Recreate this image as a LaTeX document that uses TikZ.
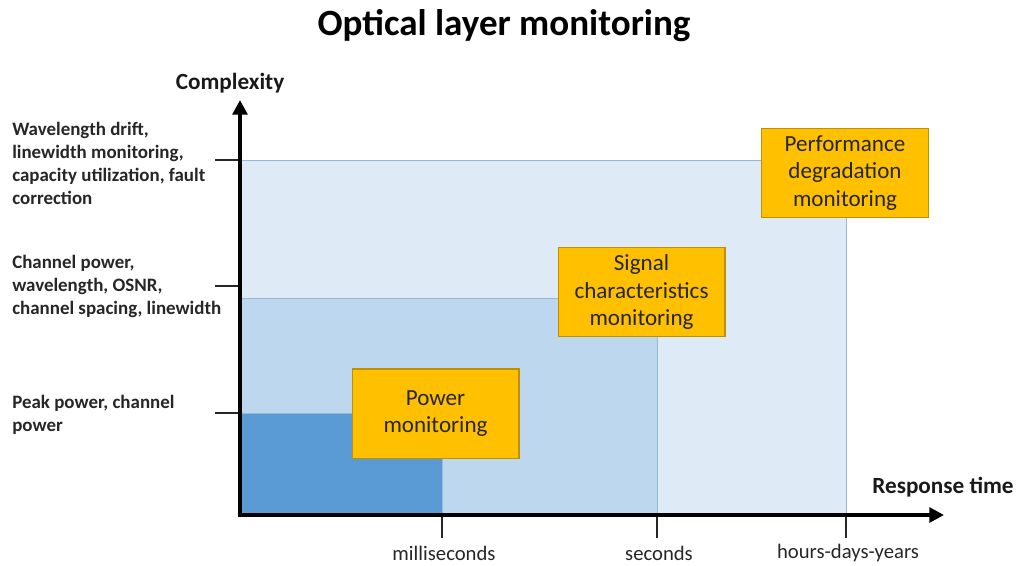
\documentclass[tikz,border=0pt]{standalone}
\usepackage{fontspec}
\setmainfont{Carlito}
\usetikzlibrary{arrows.meta}

\definecolor{lightband}{RGB}{222,235,247}
\definecolor{midband}{RGB}{189,215,238}
\definecolor{darkband}{RGB}{91,155,213}
\definecolor{bandline}{RGB}{150,185,215}
\definecolor{boxfill}{RGB}{255,192,0}
\definecolor{boxline}{RGB}{191,144,0}

\tikzset{
  monbox/.style={draw=boxline, line width=1pt, fill=boxfill, align=center,
    minimum width=125pt, minimum height=67pt, inner sep=0pt,
    font=\fontsize{17.3}{20.5}\selectfont, text=black!85},
  levellabel/.style={anchor=north west, align=left, inner sep=0pt,
    font=\bfseries\fontsize{14.2}{17.25}\selectfont, text=black!85},
  timelabel/.style={font=\fontsize{15.5}{18}\selectfont, text=black!85},
  axislabel/.style={font=\bfseries\fontsize{17.4}{20}\selectfont, text=black!90},
  tick/.style={line width=1.5pt, black!85},
}

\begin{document}
\begin{tikzpicture}[x=0.75pt, y=-0.75pt] % one unit = one pixel of the original
	\useasboundingbox (0,0) rectangle (1019,565);

	% Title
	\node[font=\bfseries\fontsize{27.8}{32}\selectfont] (title) at (504,26) {Optical layer monitoring};

	% Nested bands, from the widest to the smallest
	\draw[fill=lightband, draw=bandline, line width=0.75pt] (240,160) rectangle (846,515);
	\draw[fill=midband, draw=bandline, line width=0.75pt] (240,298) rectangle (657,515);
	\draw[fill=darkband, draw=bandline, line width=0.75pt] (240,413) rectangle (442,515);

	% Ticks on the complexity axis
	\foreach \y in {160,286,413}
	\draw[tick] (215,\y) -- (240,\y);

	% Ticks and labels on the time axis
	\foreach \x/\lab in {442/milliseconds, 657/seconds, 846/hours-days-years}
	{
		\draw[tick] (\x,515) -- (\x,538);
		\node[timelabel] (t-\lab) at (\x+2,553) {\lab};
	}

	% Axes
	\coordinate (origin) at (240,515);
	\coordinate (xend) at (944,515);
	\coordinate (yend) at (240,100);
	\draw[line width=3pt, {Triangle[length=11pt,width=11pt]}-{Triangle[length=11pt,width=11pt]}]
		(yend) -- (origin) -- (xend);
	\node[axislabel] (complexity) at (230,83) {Complexity};
	\node[axislabel] (response) at (943,487) {Response time};

	% Complexity levels
	\node[levellabel] (level3) at (12,122) {Wavelength drift,\\linewidth monitoring,\\capacity utilization, fault\\correction};
	\node[levellabel] (level2) at (12,255) {Channel power,\\wavelength, OSNR,\\channel spacing, linewidth};
	\node[levellabel] (level1) at (12,395) {Peak power, channel\\power};

	% Monitoring boxes
	\node[monbox] (power) at (435.5,413.5) {Power\\monitoring};
	\node[monbox] (signal) at (641.5,292) {Signal\\characteristics\\monitoring};
	\node[monbox] (perf) at (845,173) {Performance\\degradation\\monitoring};
\end{tikzpicture}
\end{document}
